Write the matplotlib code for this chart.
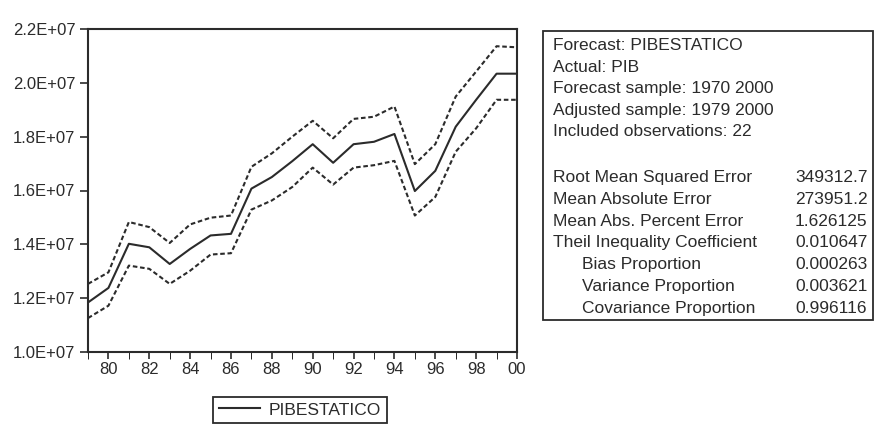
import matplotlib
matplotlib.use("Agg")
import matplotlib.pyplot as plt
import numpy as np

plt.rcParams['font.family'] = ['Liberation Sans', 'DejaVu Sans']

# Static forecast of PIB with +/- 2 S.E. bands, 1979-2000
years = list(range(1979, 2001))
forecast = [1.184e7, 1.238e7, 1.402e7, 1.389e7, 1.327e7, 1.383e7, 1.433e7, 1.439e7,
            1.607e7, 1.650e7, 1.709e7, 1.772e7, 1.703e7, 1.772e7, 1.781e7, 1.810e7,
            1.598e7, 1.673e7, 1.837e7, 1.937e7, 2.034e7, 2.034e7]
upper = [1.253e7, 1.296e7, 1.483e7, 1.464e7, 1.405e7, 1.474e7, 1.499e7, 1.507e7,
         1.688e7, 1.738e7, 1.800e7, 1.859e7, 1.794e7, 1.866e7, 1.874e7, 1.912e7,
         1.698e7, 1.772e7, 1.949e7, 2.042e7, 2.136e7, 2.132e7]
lower = [1.126e7, 1.172e7, 1.321e7, 1.309e7, 1.253e7, 1.302e7, 1.362e7, 1.367e7,
         1.529e7, 1.563e7, 1.613e7, 1.685e7, 1.622e7, 1.685e7, 1.694e7, 1.710e7,
         1.507e7, 1.576e7, 1.744e7, 1.831e7, 1.937e7, 1.937e7]

y_ticks = [1.0e7, 1.2e7, 1.4e7, 1.6e7, 1.8e7, 2.0e7, 2.2e7]
y_tick_labels = ["1.0E+07", "1.2E+07", "1.4E+07", "1.6E+07", "1.8E+07", "2.0E+07", "2.2E+07"]
x_label_years = list(range(1980, 2001, 2))
x_tick_labels = [f"{y % 100:02d}" for y in x_label_years]

stats_header = ["Forecast: PIBESTATICO", "Actual: PIB", "Forecast sample: 1970 2000",
                "Adjusted sample: 1979 2000", "Included observations: 22"]
stats_names = ["Root Mean Squared Error", "Mean Absolute Error", "Mean Abs. Percent Error",
               "Theil Inequality Coefficient", "Bias Proportion", "Variance Proportion",
               "Covariance Proportion"]
stats_values = ["349312.7", "273951.2", "1.626125", "0.010647", "0.000263", "0.003621", "0.996116"]
stats_indent = [False, False, False, False, True, True, True]

W, H = 875, 429
ink = "#2b2b2b"
fig = plt.figure(figsize=(W / 100, H / 100), dpi=100)

def fx(px):
    return px / W

def fy(py):
    return 1 - py / H

ax = fig.add_axes([fx(88), fy(352), fx(517 - 88), (352 - 29) / H])
line_fc, = ax.plot(years, forecast, color=ink, lw=1.5, label="PIBESTATICO")
ax.plot(years, upper, color=ink, lw=1.5, ls=(0, (2.2, 1.3)))
ax.plot(years, lower, color=ink, lw=1.5, ls=(0, (2.2, 1.3)))

ax.set_xlim(1979, 2000)
ax.set_ylim(1.0e7, 2.2e7)
ax.set_yticks(y_ticks)
ax.set_yticklabels(y_tick_labels)
ax.set_xticks(years, minor=True)
ax.set_xticks(x_label_years)
ax.set_xticklabels(x_tick_labels)
ax.tick_params(axis='both', direction='out', color=ink, labelcolor=ink, labelsize=12, width=1.2)
ax.tick_params(axis='y', length=6, pad=3)
ax.tick_params(axis='x', which='both', length=5, pad=2)
for s in ax.spines.values():
    s.set_color(ink)
    s.set_linewidth(1.5)

leg = fig.legend(handles=[line_fc], labels=["PIBESTATICO"], loc='center',
                 bbox_to_anchor=(fx(300), fy(410)), frameon=True, fancybox=False,
                 edgecolor=ink, framealpha=1, fontsize=12.5, handlelength=2.4,
                 handletextpad=0.5, borderpad=0.3, borderaxespad=0)
leg.get_frame().set_linewidth(1.3)
for t in leg.get_texts():
    t.set_color(ink)

# statistics box
box = plt.Rectangle((fx(543), fy(320)), fx(873 - 543), (320 - 31) / H,
                    transform=fig.transFigure, fill=False, edgecolor=ink, lw=1.3)
fig.add_artist(box)
header_y = [46, 67.5, 89, 110.5, 132]
for txt, py in zip(stats_header, header_y):
    fig.text(fx(553), fy(py), txt, fontsize=12.5, color=ink, va='center', ha='left')
stats_y = [178, 199.5, 221, 242.5, 264.5, 286.5, 308.5]
for name, val, ind, py in zip(stats_names, stats_values, stats_indent, stats_y):
    fig.text(fx(582 if ind else 553), fy(py), name, fontsize=12.5, color=ink, va='center', ha='left')
    fig.text(fx(795), fy(py), val, fontsize=12.5, color=ink, va='center', ha='left')

fig.savefig("out.png", dpi=100)
